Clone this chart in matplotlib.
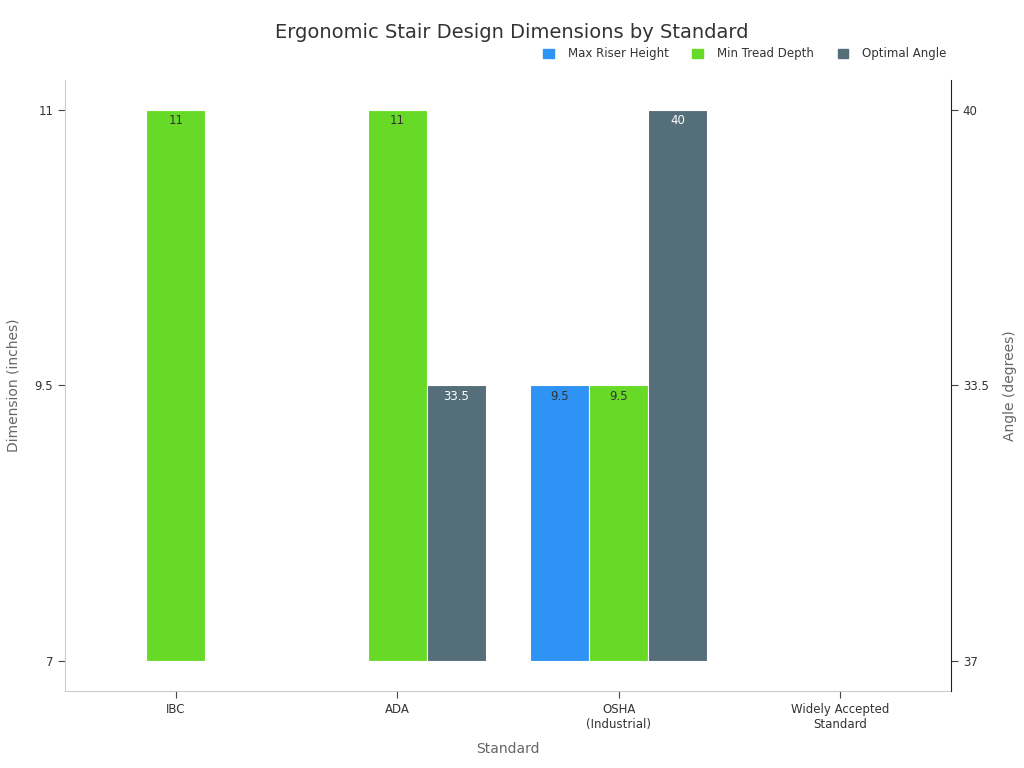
import matplotlib
matplotlib.use("Agg")
import matplotlib.pyplot as plt
from matplotlib.patches import Patch

standards = ["IBC", "ADA", "OSHA\n(Industrial)", "Widely Accepted\nStandard"]
riser = ["7", "7", "9.5", None]
tread = ["11", "11", "9.5", None]
angle = ["37", "33.5", "40", None]

# category axes, in order of appearance
dim_cats = ["7", "9.5", "11"]
ang_cats = ["37", "33.5", "40"]

C_RISER = "#2E93F5"
C_TREAD = "#66DA26"
C_ANGLE = "#546E7A"

W = 0.267

fig = plt.figure(figsize=(10.24, 7.68), dpi=100)
ax = fig.add_axes([0.0635, 0.1003, 0.8652, 0.7955])
ax2 = ax.twinx()


def draw(axis, vals, cats, off, color, txtcolor):
    for i, v in enumerate(vals):
        if v is None:
            continue
        h = cats.index(v)
        axis.bar(i + off, h, width=W, bottom=0, color=color,
                 edgecolor="white", linewidth=0.8)
        if h > 0:
            axis.annotate(v, (i + off, h), xytext=(0, -3), textcoords="offset points",
                          ha="center", va="top", fontsize=8.5, color=txtcolor)


draw(ax, riser, dim_cats, -W, C_RISER, "#333333")
draw(ax, tread, dim_cats, 0, C_TREAD, "#333333")
draw(ax2, angle, ang_cats, W, C_ANGLE, "white")

for a in (ax, ax2):
    a.set_ylim(-0.109, 2.109)
    a.set_xlim(-0.5, 3.5)
    a.spines["top"].set_visible(False)

ax.set_yticks(range(len(dim_cats)))
ax.set_yticklabels(dim_cats)
ax2.set_yticks(range(len(ang_cats)))
ax2.set_yticklabels(ang_cats)
ax.set_xticks(range(len(standards)))
ax.set_xticklabels(standards)

ax.spines["left"].set_color("#cccccc")
ax.spines["bottom"].set_color("#cccccc")
ax.spines["right"].set_visible(False)
ax2.spines["left"].set_visible(False)
ax2.spines["bottom"].set_visible(False)
ax2.spines["right"].set_color("#222222")

for a in (ax, ax2):
    a.tick_params(axis="both", length=5, width=0.8, color="#444444",
                  labelsize=8.5, labelcolor="#333333")

ax.set_xlabel("Standard", fontsize=10, color="#666666", labelpad=8)
ax.set_ylabel("Dimension (inches)", fontsize=10, color="#666666", labelpad=10)
ax2.set_ylabel("Angle (degrees)", fontsize=10, color="#666666", labelpad=10)

fig.suptitle("Ergonomic Stair Design Dimensions by Standard", x=0.5, y=0.97,
             fontsize=14, color="#333333")

handles = [Patch(color=C_RISER, label="Max Riser Height"),
           Patch(color=C_TREAD, label="Min Tread Depth"),
           Patch(color=C_ANGLE, label="Optimal Angle")]
fig.legend(handles=handles, loc="upper right", bbox_to_anchor=(0.935, 0.952),
           ncol=3, frameon=False, fontsize=8.5, handlelength=0.9, handleheight=0.9,
           columnspacing=2.0, handletextpad=1.2, labelcolor="#333333")

fig.savefig("out.png", dpi=100)
